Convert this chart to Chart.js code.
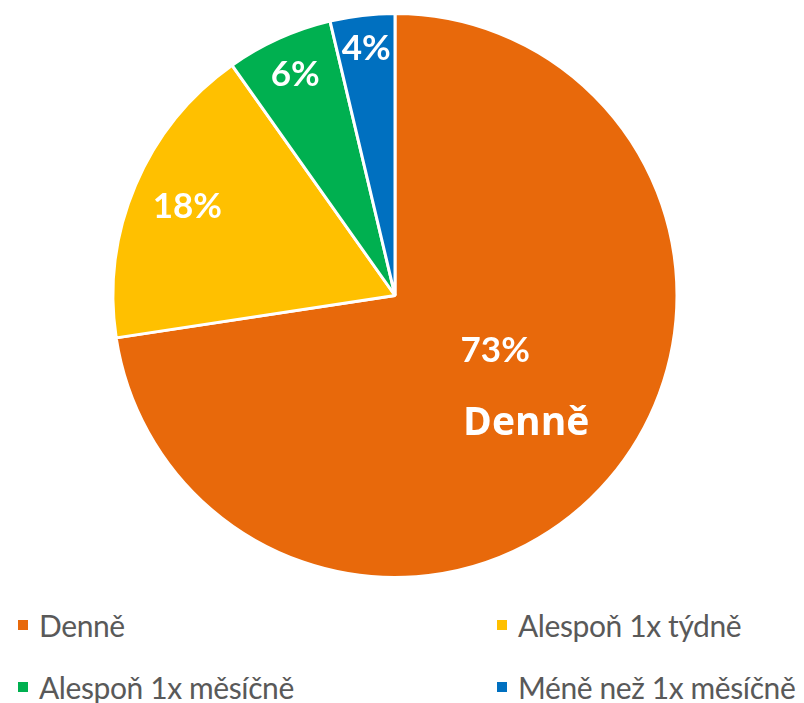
<!DOCTYPE html>
<html>
<head>
<meta charset="utf-8">
<script src="https://cdn.jsdelivr.net/npm/chart.js@4"></script>
<style>
    body { margin: 0; background: #fff; width: 804px; height: 703px; position: relative; overflow: hidden; }
    #wrap { position: absolute; left: 0; top: 0; width: 804px; height: 600px; }
    #legend { position: absolute; left: 0; top: 600px; width: 804px; font-family: Lato, sans-serif; font-size: 30px; letter-spacing: -0.4px; color: #595959; }
    .item { position: absolute; display: flex; align-items: center; white-space: nowrap; }
    .box { width: 10px; height: 10px; margin-right: 11px; }
</style>
</head>
<body>
<div id="wrap"><canvas id="chart"></canvas></div>
<div id="legend"></div>
<script>
// data
const labels = ['Denně', 'Alespoň 1x týdně', 'Alespoň 1x měsíčně', 'Méně než 1x měsíčně'];
const values = [72.6, 17.6, 6.1, 3.7];
const colors = ['#E8690B', '#FFC000', '#00B050', '#0070C0'];

// posice popisku: podil polomeru a posun uhlu (stupne)
const labelRadius = [0.405, 0.8, 0.86, 0.88];
const labelShift = [-12, 0, 0, 0];

const sliceLabels = {
    id: 'sliceLabels',
    afterDatasetsDraw(chart) {
        const ctx = chart.ctx;
        const meta = chart.getDatasetMeta(0);
        const total = values.reduce((a, b) => a + b, 0);
        ctx.save();
        ctx.fillStyle = '#fff';
        ctx.textAlign = 'center';
        ctx.textBaseline = 'middle';
        meta.data.forEach((arc, i) => {
            const p = arc.getProps(['x', 'y', 'startAngle', 'endAngle', 'outerRadius'], true);
            const mid = (p.startAngle + p.endAngle) / 2 + labelShift[i] * Math.PI / 180;
            const r = p.outerRadius * labelRadius[i];
            const x = p.x + Math.cos(mid) * r;
            const y = p.y + Math.sin(mid) * r;
            ctx.font = 'bold 35px Lato';
            ctx.fillText(Math.round(values[i] / total * 100) + '%', x, y);
            if (i === 0) {
                ctx.font = 'bold 39px "Open Sans"';
                ctx.fillText(labels[i], x + 31, y + 74);
            }
        });
        ctx.restore();
    }
};

const chart = new Chart(document.getElementById('chart'), {
    type: 'pie',
    data: {
        labels: labels,
        datasets: [{
            data: values,
            backgroundColor: colors,
            borderColor: '#fff',
            borderWidth: 3
        }]
    },
    options: {
        responsive: true,
        maintainAspectRatio: false,
        animation: false,
        layout: { padding: { top: 12, bottom: 21, left: 0, right: 14 } },
        plugins: {
            legend: { display: false },
            tooltip: { enabled: false }
        }
    },
    plugins: [sliceLabels]
});

// legenda
const legend = document.getElementById('legend');
const spots = [[18, 25], [497, 25], [18, 87], [497, 87]];
labels.forEach((label, i) => {
    const item = document.createElement('div');
    item.className = 'item';
    item.style.left = spots[i][0] + 'px';
    item.style.top = (spots[i][1] - 20) + 'px';
    item.style.height = '40px';
    item.innerHTML = '<span class="box" style="background:' + colors[i] + '"></span><span></span>';
    item.lastChild.textContent = label;
    legend.appendChild(item);
});
</script>
</body>
</html>
